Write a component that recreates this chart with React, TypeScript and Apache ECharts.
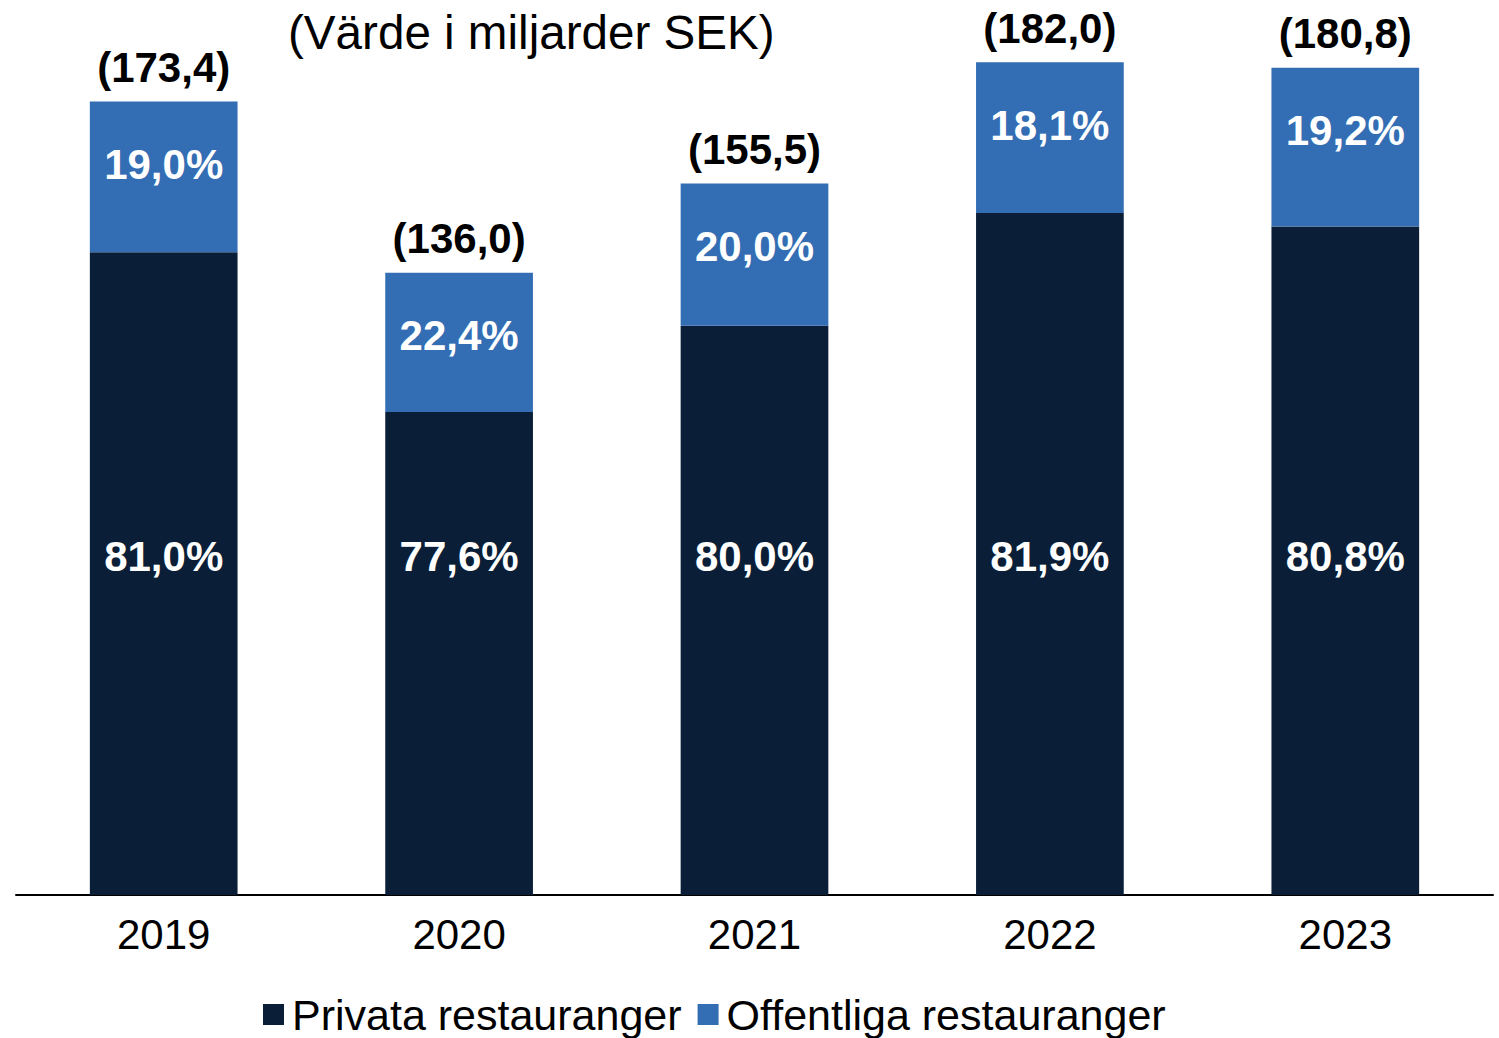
import React, { useEffect, useRef } from "react";
import * as echarts from "echarts";

const categories = ["2019", "2020", "2021", "2022", "2023"];
const totals = [173.4, 136.0, 155.5, 182.0, 180.8];
const privatePct = [81.0, 77.6, 80.0, 81.9, 80.8];
const publicPct = [19.0, 22.4, 20.0, 18.1, 19.2];

const fmt = (v: number, d = 1) => v.toFixed(d).replace(".", ",");

const FONT = "'Liberation Sans', Arial, Helvetica, sans-serif";
const NAVY = "#0A1F37";
const BLUE = "#336DB4";

export default function App() {
  const ref = useRef<HTMLDivElement>(null);
  useEffect(() => {
    if (!ref.current) return;
    const chart = echarts.init(ref.current, undefined, { renderer: "svg" });
    const privVals = totals.map((t, i) => (t * privatePct[i]) / 100);
    const pubVals = totals.map((t, i) => (t * publicPct[i]) / 100);
    chart.setOption({
      animation: false,
      backgroundColor: "#ffffff",
      textStyle: { fontFamily: FONT },
      title: {
        text: "(Värde i miljarder SEK)",
        left: 288,
        top: 8,
        padding: 0,
        textStyle: { fontFamily: FONT, fontSize: 47.6, fontWeight: "normal", color: "#000" },
      },
      legend: {
        data: ["Privata restauranger", "Offentliga restauranger"],
        left: 263,
        top: 993,
        padding: 0,
        itemWidth: 21,
        itemHeight: 21,
        itemGap: 16,
        icon: "rect",
        textStyle: { fontFamily: FONT, fontSize: 43, color: "#000", padding: [0, 0, 0, 3] },
      },
      grid: { left: 16, right: 6, top: 25.6, bottom: 143, containLabel: false },
      xAxis: {
        type: "category",
        data: categories,
        axisLine: { show: true, lineStyle: { color: "#000", width: 2 } },
        axisTick: { show: false },
        axisLabel: { fontFamily: FONT, fontSize: 42, color: "#000", margin: 18 },
      },
      yAxis: {
        type: "value",
        min: 0,
        max: 190,
        show: false,
        splitLine: { show: false },
      },
      series: [
        {
          name: "Privata restauranger",
          type: "bar",
          stack: "s",
          barWidth: "50%",
          barGap: "-100%",
          data: privVals,
          itemStyle: { color: NAVY },
          label: {
            show: true,
            position: "insideBottom",
            distance: 318,
            formatter: (p: any) => fmt(privatePct[p.dataIndex]) + "%",
            fontFamily: FONT,
            fontSize: 42,
            fontWeight: "bold",
            color: "#fff",
          },
        },
        {
          name: "Offentliga restauranger",
          type: "bar",
          stack: "s",
          barWidth: "50%",
          barGap: "-100%",
          data: pubVals,
          itemStyle: { color: BLUE },
          label: {
            show: true,
            position: "insideTop",
            distance: 42,
            formatter: (p: any) => fmt(publicPct[p.dataIndex]) + "%",
            fontFamily: FONT,
            fontSize: 42,
            fontWeight: "bold",
            color: "#fff",
          },
        },
        {
          name: "Totalt",
          type: "bar",
          barWidth: "50%",
          barGap: "-100%",
          data: totals,
          itemStyle: { color: "rgba(0,0,0,0)" },
          silent: true,
          label: {
            show: true,
            position: "top",
            distance: 13,
            formatter: (p: any) => "(" + fmt(totals[p.dataIndex]) + ")",
            fontFamily: FONT,
            fontSize: 42,
            fontWeight: "bold",
            color: "#000",
          },
        },
      ],
    });
    return () => chart.dispose();
  }, []);
  return (
    <div
      ref={ref}
      style={{ position: "fixed", left: 0, top: 0, width: 1499, height: 1038 }}
    />
  );
}
